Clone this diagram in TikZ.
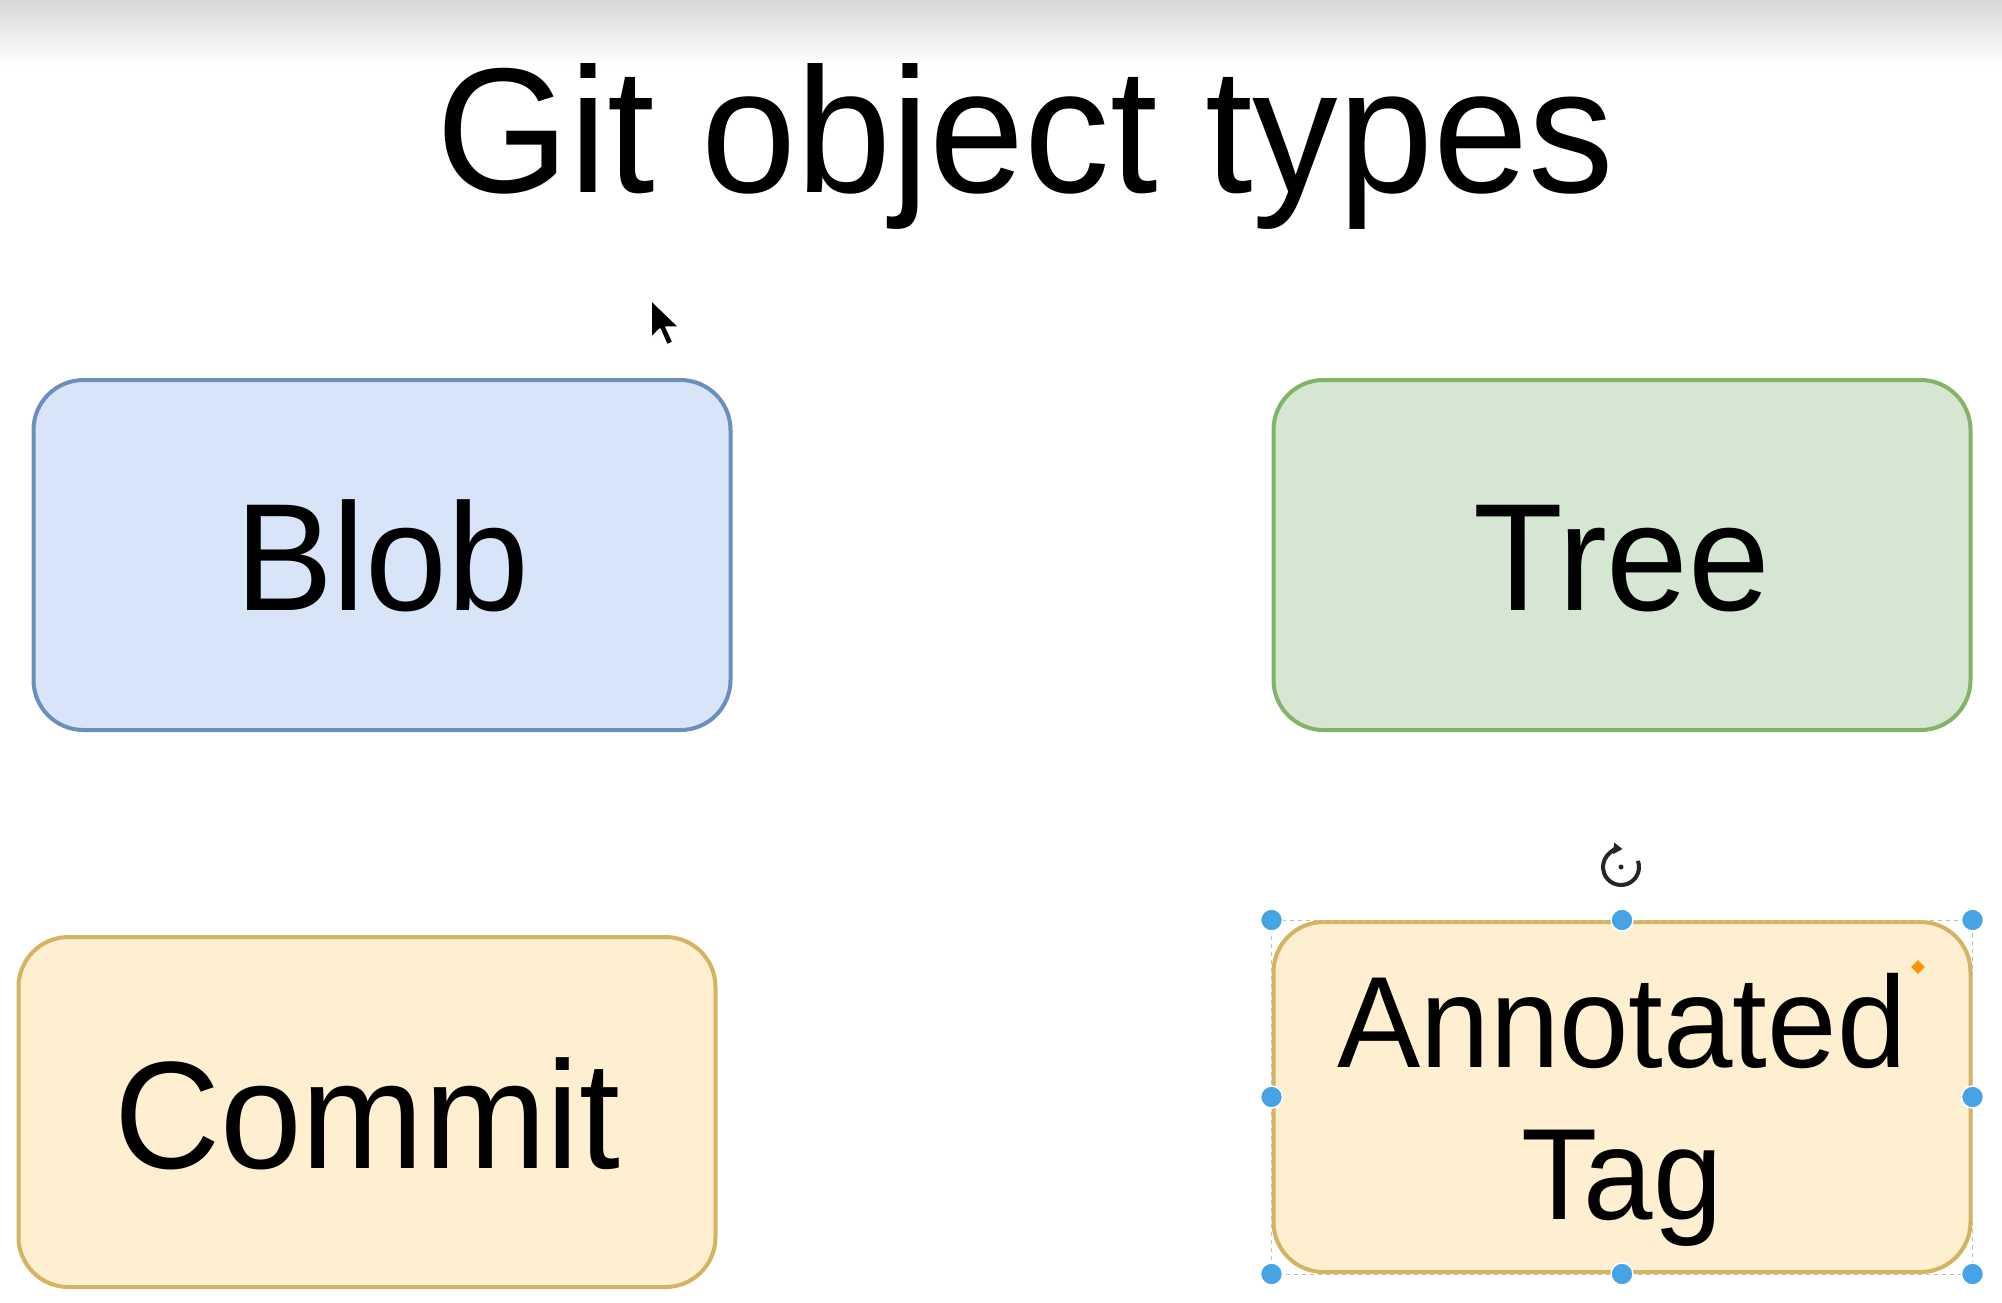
\documentclass[tikz,border=0pt]{standalone}
\usepackage{fontspec}
\setmainfont{Liberation Sans}[FakeStretch=0.96]
\usetikzlibrary{shapes.geometric,arrows.meta}
\definecolor{blobfill}{HTML}{D8E5F9}
\definecolor{blobline}{HTML}{6C8EBF}
\definecolor{treefill}{HTML}{D5E6D3}
\definecolor{treeline}{HTML}{82B366}
\definecolor{yelfill}{HTML}{FDEFD0}
\definecolor{yelline}{HTML}{D4B460}
\definecolor{handle}{HTML}{45A3E6}
\definecolor{topgray}{HTML}{D8D8D8}
\tikzset{
  objbox/.style={draw, rounded corners=50pt, line width=4pt, minimum width=697pt, minimum height=350pt, inner sep=0pt},
  biglabel/.style={anchor=base, inner sep=0pt, font=\fontsize{153}{170}\selectfont},
  taglabel/.style={anchor=base, inner sep=0pt, font=\fontsize{130}{150}\selectfont},
  handledot/.style={circle, fill=handle, draw=white, line width=1.5pt, minimum size=22pt, inner sep=0pt},
}
\begin{document}
\begin{tikzpicture}[x=1pt,y=-1pt]
\useasboundingbox (0,0) rectangle (2002,1302);
\fill[white] (0,0) rectangle (2002,1302);
\shade[top color=topgray, bottom color=white] (0,0) rectangle (2002,65);

% title
\node[anchor=base, inner sep=0pt, font=\fontsize{178}{200}\selectfont] (title) at (1025,192) {Git object types};

% boxes
\node[objbox, fill=blobfill, draw=blobline] (blob) at (382,555) {};
\node[objbox, fill=treefill, draw=treeline] (tree) at (1622,555) {};
\node[objbox, fill=yelfill, draw=yelline] (commit) at (367,1112) {};
\node[objbox, fill=yelfill, draw=yelline] (tag) at (1622,1097) {};

% labels
\node[biglabel] (blobt) at (382,610) {Blob};
\node[biglabel] (treet) at (1622,610) {Tree};
\node[biglabel] (committ) at (367,1168) {Commit};
\node[taglabel] (tagt1) at (1622,1067) {Annotated};
\node[taglabel] (tagt2) at (1622,1219) {Tag};

% selection frame and handles
\draw[gray!50, line width=0.6pt, dash pattern=on 4pt off 4pt] (tag.north west) rectangle (tag.south east);
\foreach \n/\p in {h1/north west, h2/north, h3/north east, h4/west, h5/east, h6/south west, h7/south, h8/south east}{
  \node[handledot] (\n) at (tag.\p) {};
}
\node[diamond, fill=orange!85!yellow, minimum size=14pt, inner sep=0pt] (dia) at (1918,967) {};

% rotation icon
\coordinate (rot) at (1621,867);
\draw[black!85, line width=4pt, -{Triangle[length=9pt,width=11pt]}] (rot) ++(20:18pt) arc[start angle=20, end angle=-275, radius=18pt];
\fill[black!85] (rot) circle (2.5pt);

% mouse cursor
\filldraw[fill=black, draw=white, line width=1.5pt, line join=round]
  (651,300) -- (651,338) -- (660,329) -- (667,345) -- (673,342) -- (666,327) -- (679,327) -- cycle;
\end{tikzpicture}
\end{document}
